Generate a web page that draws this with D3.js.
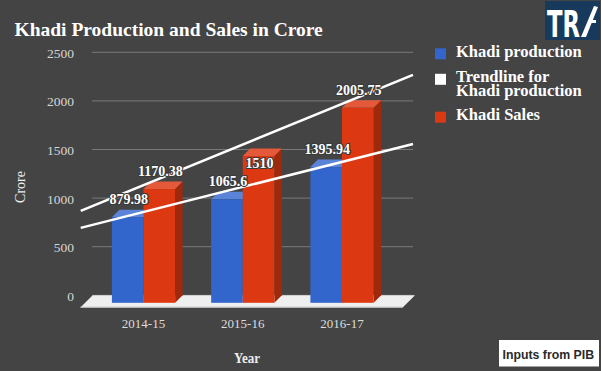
<!DOCTYPE html>
<html><head><meta charset="utf-8">
<script src="https://cdn.jsdelivr.net/npm/d3@7"></script>
<style>
html,body{margin:0;padding:0;background:#444444;}
svg{display:block;}
</style></head>
<body><svg id="chart" width="601" height="371"></svg>
<script>
const categories = ["2014-15", "2015-16", "2016-17"];
const production = [879.98, 1065.6, 1395.94];
const sales = [1170.38, 1510, 2005.75];
const seriesNames = ["Khadi production", "Khadi Sales"];
const yTicks = [0, 500, 1000, 1500, 2000, 2500];
const legendItems = [
  ["Khadi production"],
  ["Trendline for", "Khadi production"],
  ["Khadi Sales"]
];
const title = "Khadi Production and Sales in Crore";
const yTitle = "Crore";
const xTitle = "Year";
const sourceNote = "Inputs from PIB";

const svg = d3.select("#chart");
const W = 601, H = 371;
const SERIF = "'Liberation Serif', 'DejaVu Serif', serif";
svg.append("rect").attr("width", W).attr("height", H).attr("fill", "#444444");

const DEPTH = 7.5;          // bar depth offset (x right, y up)
const yBack = d3.scaleLinear().domain([0, 2500]).range([295.3, 52.3]);
const yFront = v => yBack(v) + DEPTH;
const xCenter = d3.scalePoint().domain(categories).range([143.5, 342]);
const xSeries = d3.scaleBand().domain(seriesNames).range([-31.6, 31.6]);
const colors = {"Khadi production": "#3366cc", "Khadi Sales": "#dc3912"};
const topColors = {"Khadi production": "#5b84d8", "Khadi Sales": "#e4593a"};
const sideColors = {"Khadi production": "#23478f", "Khadi Sales": "#9e290d"};

// gridlines (back plane)
svg.append("g").selectAll("line").data(yTicks).join("line")
  .attr("x1", 92).attr("x2", 413)
  .attr("y1", d => yBack(d)).attr("y2", d => yBack(d))
  .attr("stroke", "#7a7a7a").attr("stroke-width", 1);

// y tick labels
svg.append("g").selectAll("text").data(yTicks).join("text")
  .attr("x", 74).attr("y", d => yBack(d) + 5.5)
  .attr("text-anchor", "end")
  .attr("font-family", SERIF).attr("font-size", 13.5)
  .attr("fill", "#d6d6d6")
  .text(d => d);

// floor
const fl = 92.7, fr = 415, fy = yBack(0), fd = 12.3;
svg.append("path")
  .attr("d", `M${fl},${fy}L${fr},${fy}L${fr - fd},${fy + fd}L${fl - fd},${fy + fd}Z`)
  .attr("fill", "#efefef");
svg.append("line")
  .attr("x1", fl - fd).attr("x2", fr - fd).attr("y1", fy + fd - 0.5).attr("y2", fy + fd - 0.5)
  .attr("stroke", "#c9c9c9").attr("stroke-width", 1);

// bars
const barData = [];
categories.forEach((c, i) => {
  barData.push({cat: c, series: "Khadi production", value: production[i]});
  barData.push({cat: c, series: "Khadi Sales", value: sales[i]});
});
const bars = svg.append("g");
barData.forEach(d => {
  const x0 = xCenter(d.cat) + xSeries(d.series);
  const x1 = x0 + xSeries.bandwidth();
  const yt = yFront(d.value), yb = yFront(0);
  const g = bars.append("g");
  g.append("path")
    .attr("d", `M${x1},${yt}L${x1 + DEPTH},${yt - DEPTH}L${x1 + DEPTH},${yb - DEPTH}L${x1},${yb}Z`)
    .attr("fill", sideColors[d.series]);
  g.append("path")
    .attr("d", `M${x0},${yt}L${x0 + DEPTH},${yt - DEPTH}L${x1 + DEPTH},${yt - DEPTH}L${x1},${yt}Z`)
    .attr("fill", topColors[d.series]);
  g.append("rect")
    .attr("x", x0).attr("y", yt).attr("width", x1 - x0).attr("height", yb - yt)
    .attr("fill", colors[d.series]);
});

// trendlines (linear regression over category index)
function regression(vals) {
  const xs = vals.map((_, i) => i);
  const mx = d3.mean(xs), my = d3.mean(vals);
  const b = d3.sum(xs, (x, i) => (x - mx) * (vals[i] - my)) / d3.sum(xs, x => (x - mx) ** 2);
  return {a: my - b * mx, b};
}
const xIdx = d3.scaleLinear().domain([0, categories.length - 1])
  .range([xCenter(categories[0]) + DEPTH, xCenter(categories[categories.length - 1]) + DEPTH]);
const TREND_LIFT = 2;
const trendY = (reg, px) => yBack(reg.a + reg.b * xIdx.invert(px)) - TREND_LIFT;
const trendX = [80.7, 413];
const regs = {"Khadi production": regression(production), "Khadi Sales": regression(sales)};
const lineGen = d3.line();
Object.values(regs).forEach(reg => {
  svg.append("path")
    .attr("d", lineGen(trendX.map(px => [px, trendY(reg, px)])))
    .attr("stroke", "#ffffff").attr("stroke-width", 2.5).attr("fill", "none");
});

// data labels
const labels = svg.append("g");
barData.forEach(d => {
  const cx = xCenter(d.cat) + xSeries(d.series) + xSeries.bandwidth() / 2 + 1;
  let base = yBack(d.value) - 5.5;
  const ly = trendY(regs[d.series], cx);
  if (ly > base - 10 && ly < base + 1) base = yBack(d.value) + 19.5;  // avoid trendline: place inside
  labels.append("text")
    .attr("x", cx).attr("y", base)
    .attr("text-anchor", "middle")
    .attr("font-family", SERIF).attr("font-weight", "bold").attr("font-size", 14)
    .attr("fill", "#ffffff").attr("stroke", "#3a3a3a").attr("stroke-width", 2.2)
    .attr("paint-order", "stroke").attr("stroke-linejoin", "round")
    .text(d.value);
});

// category labels
svg.append("g").selectAll("text").data(categories).join("text")
  .attr("x", d => xCenter(d)).attr("y", 327.5)
  .attr("text-anchor", "middle")
  .attr("font-family", SERIF).attr("font-size", 13)
  .attr("fill", "#dddddd")
  .text(d => d);

// axis titles
svg.append("text")
  .attr("transform", "translate(24.5,187) rotate(-90)")
  .attr("text-anchor", "middle")
  .attr("font-family", SERIF).attr("font-size", 14)
  .attr("fill", "#eeeeee")
  .text(yTitle);
svg.append("text")
  .attr("x", 247).attr("y", 362.5)
  .attr("text-anchor", "middle")
  .attr("font-family", SERIF).attr("font-weight", "bold").attr("font-size", 14.5)
  .attr("textLength", 26).attr("lengthAdjust", "spacingAndGlyphs")
  .attr("fill", "#eeeeee")
  .text(xTitle);

// title
svg.append("text")
  .attr("x", 14.5).attr("y", 35.5)
  .attr("font-family", SERIF).attr("font-weight", "bold").attr("font-size", 19.5)
  .attr("fill", "#ffffff")
  .text(title);

// legend
const legendColors = [colors["Khadi production"], "#ffffff", colors["Khadi Sales"]];
const legendSquareY = [48.3, 73.8, 111.7];
const legendBase = [57.3, 82.3, 120.3];
const lg = svg.append("g");
legendItems.forEach((lines, i) => {
  lg.append("rect").attr("x", 435).attr("y", legendSquareY[i]).attr("width", 11).attr("height", 11)
    .attr("fill", legendColors[i]);
  const t = lg.append("text")
    .attr("x", 456).attr("y", legendBase[i])
    .attr("font-family", SERIF).attr("font-weight", "bold").attr("font-size", 16.5)
    .attr("fill", "#ffffff");
  lines.forEach((line, j) => {
    t.append("tspan").attr("x", 456).attr("y", legendBase[i] + j * 13.2).text(line);
  });
});

// source note
svg.append("rect").attr("x", 499).attr("y", 340).attr("width", 100).attr("height", 26.5).attr("fill", "#ffffff");
svg.append("text")
  .attr("x", 502.5).attr("y", 358.8)
  .attr("font-family", "'Liberation Sans', Arial, sans-serif").attr("font-weight", "bold").attr("font-size", 12.3)
  .attr("fill", "#2a2a2a")
  .text(sourceNote);

// logo
const logo = svg.append("g");
logo.append("rect").attr("x", 545).attr("y", 1).attr("width", 55).attr("height", 39).attr("fill", "#173a5c");
logo.append("text")
  .attr("x", 547).attr("y", 36.5)
  .attr("font-family", "'DejaVu Sans', sans-serif").attr("font-weight", "bold").attr("font-size", 38)
  .attr("textLength", 33).attr("lengthAdjust", "spacingAndGlyphs")
  .attr("fill", "#ffffff")
  .text("TR");
logo.append("path")
  .attr("d", "M581,37L594,6L598,7L586,37Z")
  .attr("fill", "#ffffff");
logo.append("path")
  .attr("d", "M590,20L596,20L596,23L590,23Z")
  .attr("fill", "#ffffff");
</script>
</body></html>
